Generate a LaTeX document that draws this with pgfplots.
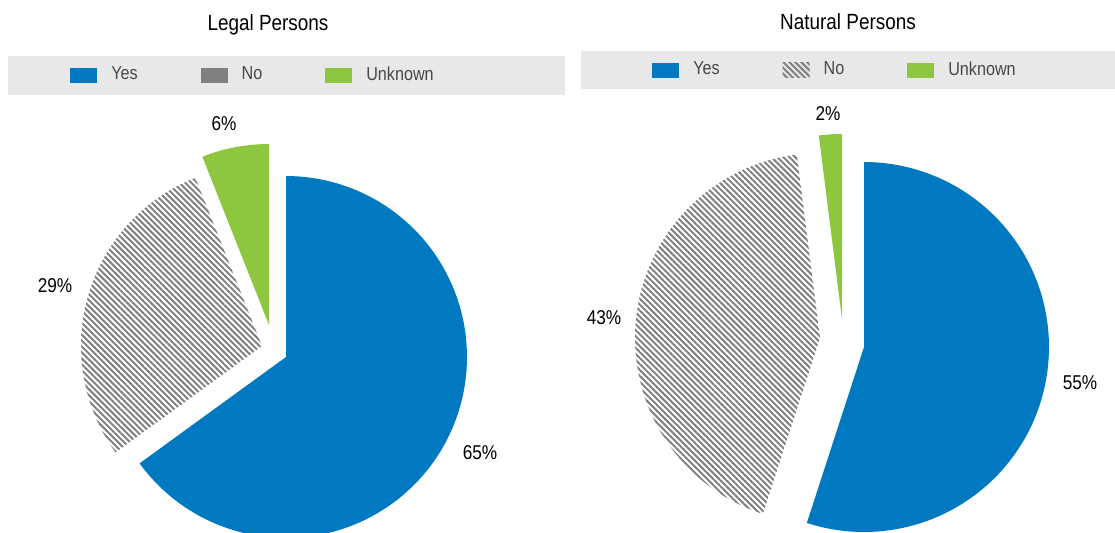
\documentclass[border=0pt]{standalone}
\usepackage{pgfplots}
\pgfplotsset{compat=1.18}
\usepackage{pgfplotstable}
\usetikzlibrary{patterns.meta}
\usepackage{fontspec}
\setmainfont{Liberation Sans}[FakeStretch=0.86]
\definecolor{cblue}{HTML}{0079C1}
\definecolor{cgreen}{HTML}{8DC63F}
\definecolor{cgray}{HTML}{808080}
\definecolor{legbg}{HTML}{E8E8E8}
\definecolor{txt}{HTML}{484848}
\tikzset{hatch/.style={pattern={Lines[angle=-45,distance=2.1pt,line width=1pt]},pattern color=cgray}}
% slice: table, row, radius, start angle, style
\newcommand\pieslice[5]{%
  \pgfplotstablegetelem{#2}{cx}\of#1\edef\scx{\pgfplotsretval}%
  \pgfplotstablegetelem{#2}{cy}\of#1\edef\scy{\pgfplotsretval}%
  \pgfplotstablegetelem{#2}{value}\of#1\edef\sval{\pgfplotsretval}%
  \pgfmathsetmacro\sstart{#4}%
  \pgfmathsetmacro\send{#4+3.6*\sval}%
  \edef\doslice{\noexpand\addplot[#5, draw=none, forget plot, domain=\sstart:\send, samples=120, variable=\noexpand\t]
    ({\scx+#3*cos(\noexpand\t)}, {\scy-#3*sin(\noexpand\t)}) -- (axis cs:\scx,\scy) -- cycle;}%
  \doslice
}
\pgfplotstableread{
slice value cx cy
Yes 65 286 357
No 29 262 346
Unknown 6 269 325
}\legal
\pgfplotstableread{
slice value cx cy
Yes 55 864 347
No 43 820 338
Unknown 2 842 319
}\natural
\pgfplotsset{
  pieaxis/.style={scale only axis, hide axis, y dir=reverse, ymin=0, ymax=532, height=266pt,
    legend columns=3,
    legend style={draw=none, fill=none, anchor=center, font=\fontsize{9.4}{11}\selectfont, text=txt,
      /tikz/every even column/.append style={column sep=29.5pt},
      /tikz/every odd column/.append style={column sep=5pt}},
    legend image code/.code={\fill[##1, draw=none] (0pt,-3.75pt) rectangle (13.5pt,3.75pt);},
    every node/.append style={text=txt, font=\fontsize{10}{12}\selectfont}},
}
\begin{document}
\begin{tikzpicture}
\begin{axis}[pieaxis, at={(0pt,0pt)}, xmin=0, xmax=570, width=285pt,
  legend style={at={(axis cs:254,75)}}]
\fill[legbg] (axis cs:8,56) rectangle (axis cs:565,95);
\path (axis cs:0,0) rectangle (axis cs:570,532);
\addlegendimage{fill=cblue}\addlegendentry{Yes}
\addlegendimage{fill=cgray}\addlegendentry{No}
\addlegendimage{fill=cgreen}\addlegendentry{Unknown}
\pieslice{\legal}{0}{181}{-144}{fill=cblue}
\pieslice{\legal}{1}{181}{111.6}{hatch}
\pieslice{\legal}{2}{181}{90}{fill=cgreen}
\node[font=\fontsize{11}{13}\selectfont] at (axis cs:268,25) {Legal Persons};
\node at (axis cs:224,124) {6\%};
\node at (axis cs:55,286) {29\%};
\node at (axis cs:480,453) {65\%};
\end{axis}
\begin{axis}[pieaxis, at={(285pt,0pt)}, xmin=570, xmax=1115, width=272.5pt,
  legend style={at={(axis cs:836,70)}}]
\fill[legbg] (axis cs:581,51) rectangle (axis cs:1115,89);
\path (axis cs:570,0) rectangle (axis cs:1115,532);
\addlegendimage{fill=cblue}\addlegendentry{Yes}
\addlegendimage{hatch}\addlegendentry{No}
\addlegendimage{fill=cgreen}\addlegendentry{Unknown}
\pieslice{\natural}{0}{185}{-108}{fill=cblue}
\pieslice{\natural}{1}{185}{97.2}{hatch}
\pieslice{\natural}{2}{185}{90}{fill=cgreen}
\node[font=\fontsize{11}{13}\selectfont] at (axis cs:848,22) {Natural Persons};
\node at (axis cs:828,114) {2\%};
\node at (axis cs:604,318) {43\%};
\node at (axis cs:1080,383) {55\%};
\end{axis}
\end{tikzpicture}
\end{document}
